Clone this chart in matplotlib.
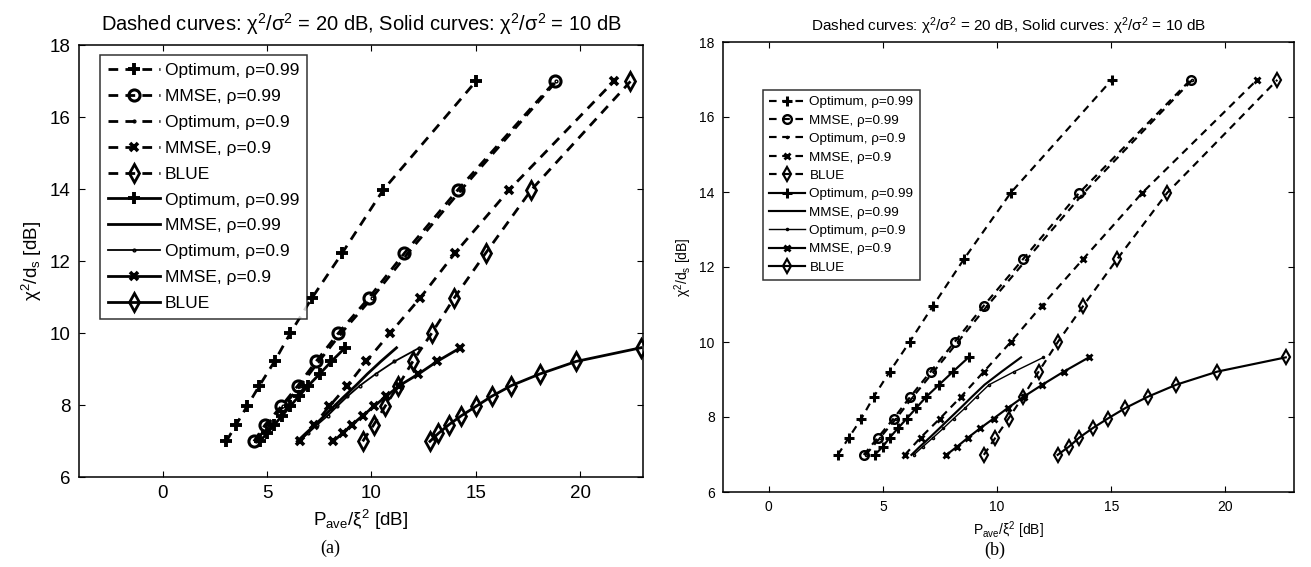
import numpy as np
import matplotlib
matplotlib.use('Agg')
import matplotlib.pyplot as plt

plt.rcParams['font.family'] = ['Liberation Sans', 'DejaVu Sans']
plt.rcParams['mathtext.fontset'] = 'custom'
plt.rcParams['mathtext.rm'] = 'Liberation Sans'
plt.rcParams['mathtext.it'] = 'Liberation Sans:italic'
plt.rcParams['mathtext.bf'] = 'Liberation Sans:bold'

# y values (same for every curve of one kind)
Y_DASH = [6.99, 7.45, 7.96, 8.54, 9.21, 10.0, 10.97, 12.22, 13.98, 16.99]
Y_SOLID = [6.99, 7.21, 7.45, 7.70, 7.96, 8.24, 8.54, 8.86, 9.21, 9.59]

LABELS = ['Optimum, ρ=0.99', 'MMSE, ρ=0.99', 'Optimum, ρ=0.9', 'MMSE, ρ=0.9', 'BLUE']

# panel (a): x values
A_DASH = [
    [3.05, 3.52, 4.04, 4.64, 5.36, 6.12, 7.15, 8.60, 10.57, 15.00],
    [4.37, 4.91, 5.68, 6.48, 7.35, 8.42, 9.87, 11.58, 14.14, 18.79],
    [4.45, 5.00, 5.78, 6.60, 7.48, 8.56, 10.02, 11.75, 14.30, 18.85],
    [6.56, 7.25, 7.98, 8.85, 9.75, 10.90, 12.33, 14.00, 16.60, 21.60],
    [9.58, 10.11, 10.65, 11.29, 11.98, 12.89, 13.96, 15.47, 17.66, 22.40],
]
A_SOLID = [
    [4.65, 5.00, 5.35, 5.72, 6.10, 6.52, 6.98, 7.52, 8.08, 8.74],
    [6.45, 6.85, 7.30, 7.75, 8.20, 8.70, 9.25, 9.80, 10.45, 11.20],
    [6.50, 6.95, 7.40, 7.90, 8.35, 8.85, 9.45, 10.20, 11.10, 12.30],
    [8.15, 8.63, 9.06, 9.58, 10.11, 10.70, 11.34, 12.25, 13.14, 14.26],
    [12.80, 13.20, 13.70, 14.30, 15.00, 15.75, 16.70, 18.05, 19.80, 22.90],
]

# panel (b)
B_DASH = [
    [3.03, 3.51, 4.06, 4.60, 5.30, 6.17, 7.20, 8.56, 10.60, 15.02],
    [4.16, 4.78, 5.47, 6.20, 7.09, 8.14, 9.42, 11.15, 13.60, 18.47],
    [4.25, 4.88, 5.58, 6.32, 7.22, 8.28, 9.58, 11.32, 13.80, 18.55],
    [5.96, 6.65, 7.50, 8.42, 9.42, 10.60, 11.96, 13.78, 16.36, 21.38],
    [9.42, 9.93, 10.50, 11.13, 11.82, 12.66, 13.78, 15.27, 17.45, 22.27],
]
B_SOLID = [
    [4.64, 5.00, 5.30, 5.66, 6.05, 6.46, 6.90, 7.46, 8.07, 8.75],
    [6.25, 6.62, 7.05, 7.48, 7.92, 8.40, 8.90, 9.45, 10.20, 11.05],
    [6.35, 6.75, 7.20, 7.65, 8.10, 8.60, 9.10, 9.65, 10.75, 12.03],
    [7.78, 8.25, 8.73, 9.26, 9.85, 10.47, 11.16, 11.98, 12.92, 14.02],
    [12.65, 13.15, 13.60, 14.18, 14.85, 15.62, 16.60, 17.84, 19.64, 22.64],
]

MARKS = ['+', 'o', '.', 'x', 'd']
TITLE = (r'Dashed curves: $\mathrm{\chi^2/\sigma^2}$ = 20 dB, '
         r'Solid curves: $\mathrm{\chi^2/\sigma^2}$ = 10 dB')


def draw_panel(ax, dash, solid, sc, leg_anchor, fs, lfs, lspace, hlen):
    lw = 2.0 * sc
    ms = {'+': 8.5 * sc, 'o': 8 * sc, '.': 4 * sc, 'x': 6 * sc, 'd': 9 * sc}
    mew = {'+': 2.8 * sc, 'o': 2.2 * sc, '.': 1.0, 'x': 2.6 * sc, 'd': 2.0 * sc}
    for i, xs in enumerate(dash):
        m = MARKS[i]
        ax.plot(xs, Y_DASH, color='k', ls=(0, (3.5, 2.6)), lw=lw, marker=m, ms=ms[m],
                mew=mew[m], mfc='none', label=LABELS[i])
    for i, xs in enumerate(solid):
        m = MARKS[i] if i != 1 else 'None'
        w = lw * 0.65 if i == 2 else lw
        ax.plot(xs, Y_SOLID, color='k', ls='-', lw=w, marker=m, ms=ms.get(m, 0),
                mew=mew.get(m, 1), mfc='none', label=LABELS[i])

    ax.set_ylim(6, 18)
    ax.set_yticks(np.arange(6, 19, 2))
    ax.set_xticks([0, 5, 10, 15, 20])
    ax.tick_params(direction='in', top=True, right=True, length=4.5, width=0.8,
                   labelsize=fs, pad=6)
    for s in ax.spines.values():
        s.set_linewidth(1.1)
    ax.set_xlabel(r'$\mathrm{P_{ave}/\xi^2}$ [dB]', fontsize=fs)
    ax.set_ylabel(r'$\mathrm{\chi^2/d_s}$ [dB]', fontsize=fs)
    leg = ax.legend(loc='upper left', bbox_to_anchor=leg_anchor,
                    bbox_transform=ax.figure.transFigure, borderaxespad=0,
                    fontsize=lfs, frameon=True, fancybox=False, edgecolor='k',
                    labelspacing=lspace, handlelength=hlen, handletextpad=0.3,
                    borderpad=0.45)
    leg.get_frame().set_linewidth(1.1)


fig = plt.figure(figsize=(13.11, 5.67), dpi=100)
W, H = 1311.0, 567.0

ax1 = fig.add_axes([79 / W, 1 - 477 / H, (643 - 79) / W, (477 - 45) / H])
draw_panel(ax1, A_DASH, A_SOLID, 1.0, (100 / W, 1 - 55 / H), 13.5, 12.5, 0.62, 3.0)
ax1.set_xlim(-4, 23)
ax1.set_title(TITLE, fontsize=14.5, pad=10)

ax2 = fig.add_axes([723 / W, 1 - 492 / H, (1294 - 723) / W, (492 - 42) / H])
draw_panel(ax2, B_DASH, B_SOLID, 0.78, (763 / W, 1 - 90 / H), 10, 9.7, 0.44, 2.7)
ax2.set_xlim(-2, 23)
ax2.set_title(TITLE, fontsize=11, pad=8)

fig.text(330 / W, 1 - 548 / H, '(a)', family='Liberation Serif', fontsize=13,
         ha='center', va='center')
fig.text(995 / W, 1 - 550 / H, '(b)', family='Liberation Serif', fontsize=13,
         ha='center', va='center')

fig.savefig('out.png', dpi=100)
